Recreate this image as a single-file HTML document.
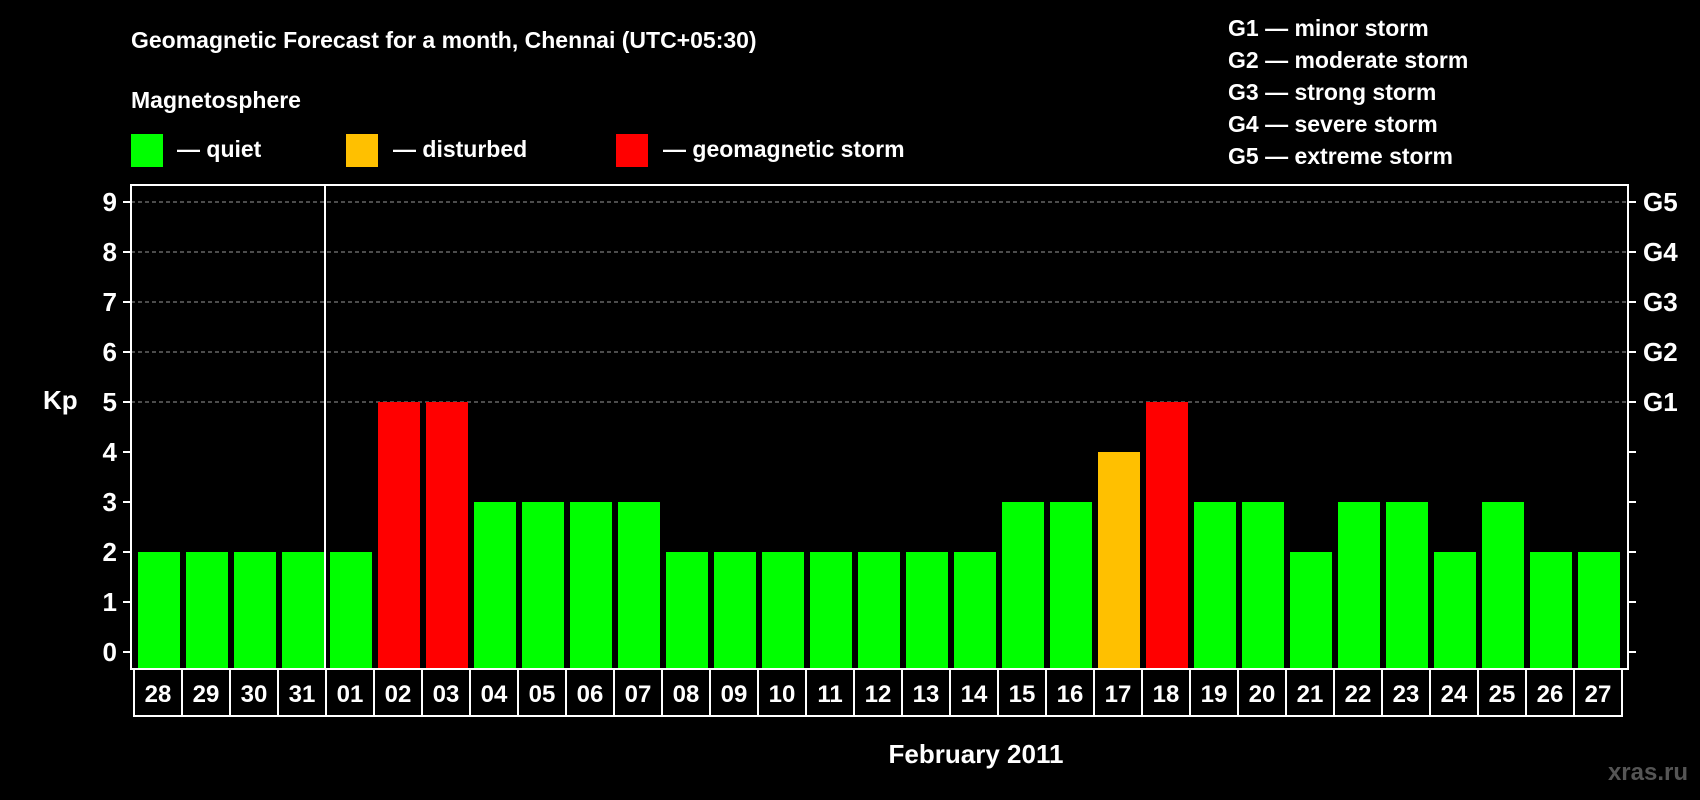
<!DOCTYPE html>
<html><head><meta charset="utf-8"><style>
body{margin:0;background:#000;width:1700px;height:800px;overflow:hidden}
svg{display:block;font-family:"Liberation Sans",sans-serif;font-weight:bold}
</style></head><body>
<svg id="c" width="1700" height="800">
<text x="131" y="48" fill="#fff" font-size="23">Geomagnetic Forecast for a month, Chennai (UTC+05:30)</text>
<text x="131" y="108" fill="#fff" font-size="23">Magnetosphere</text>
<rect x="131" y="134" width="32" height="33" fill="#00ff00"/>
<text x="177" y="157" fill="#fff" font-size="23">— quiet</text>
<rect x="346" y="134" width="32" height="33" fill="#ffc000"/>
<text x="393" y="157" fill="#fff" font-size="23">— disturbed</text>
<rect x="616" y="134" width="32" height="33" fill="#ff0000"/>
<text x="663" y="157" fill="#fff" font-size="23">— geomagnetic storm</text>
<g fill="#fff" font-size="23">
<text x="1228" y="36">G1 — minor storm</text>
<text x="1228" y="68">G2 — moderate storm</text>
<text x="1228" y="100">G3 — strong storm</text>
<text x="1228" y="132">G4 — severe storm</text>
<text x="1228" y="164">G5 — extreme storm</text>
</g>
<text x="43" y="409" fill="#fff" font-size="26">Kp</text>
<text x="976" y="763" fill="#fff" font-size="26" text-anchor="middle">February 2011</text>
<text x="1688" y="780" fill="#555" font-size="24" text-anchor="end">xras.ru</text>
<g id="plot"></g>
</svg>
<script>
const days=["28","29","30","31","01","02","03","04","05","06","07","08","09","10","11","12","13","14","15","16","17","18","19","20","21","22","23","24","25","26","27"];
const kp=[2,2,2,2,2,5,5,3,3,3,3,2,2,2,2,2,2,2,3,3,4,5,3,3,2,3,3,2,3,2,2];
const yTicks=[0,1,2,3,4,5,6,7,8,9];
const gLabels=["G1","G2","G3","G4","G5"];
const ns="http://www.w3.org/2000/svg";
const g=document.getElementById('plot');
const L=131,R=1628,T=185,B=669,x0=134,pitch=48;
const y=v=>652-50*v;
const xc=i=>x0+pitch*i;
function mk(t,a){const e=document.createElementNS(ns,t);for(const k in a)e.setAttribute(k,a[k]);g.appendChild(e);return e;}
yTicks.forEach(v=>{
 if(v>=5){const l=mk('line',{x1:L,x2:R,y1:y(v),y2:y(v),stroke:'#999','stroke-dasharray':'4,3'});
 
 }
 mk('line',{x1:L-8,x2:L,y1:y(v),y2:y(v),stroke:'#fff','stroke-width':2});
 mk('line',{x1:R,x2:R+8,y1:y(v),y2:y(v),stroke:'#fff','stroke-width':2});
 const t=mk('text',{x:L-14,y:y(v)+9,fill:'#fff','font-size':26,'text-anchor':'end'});t.textContent=v;
 
 
});
gLabels.forEach((s,i)=>{const t=mk('text',{x:1643,y:y(5+i)+9,fill:'#fff','font-size':26});t.textContent=s;
 
 });
kp.forEach((v,i)=>{
 const col=v>=5?'#ff0000':v===4?'#ffc000':'#00ff00';
 const r=mk('rect',{x:xc(i)+4,y:y(v),width:42,height:B-1-y(v),fill:col});
 
 
 const c=mk('rect',{x:xc(i),y:B,width:pitch,height:47,fill:'none',stroke:'#fff','stroke-width':2});
 
 
 const t=mk('text',{x:xc(i)+pitch/2,y:B+33,fill:'#fff','font-size':24,'text-anchor':'middle'});t.textContent=days[i];
 
 
});
const f=mk('rect',{x:L,y:T,width:R-L,height:B-T,fill:'none',stroke:'#fff','stroke-width':2});


const d=mk('line',{x1:xc(4)-1,x2:xc(4)-1,y1:T,y2:B,stroke:'#fff','stroke-width':2});


</script>
</body></html>
